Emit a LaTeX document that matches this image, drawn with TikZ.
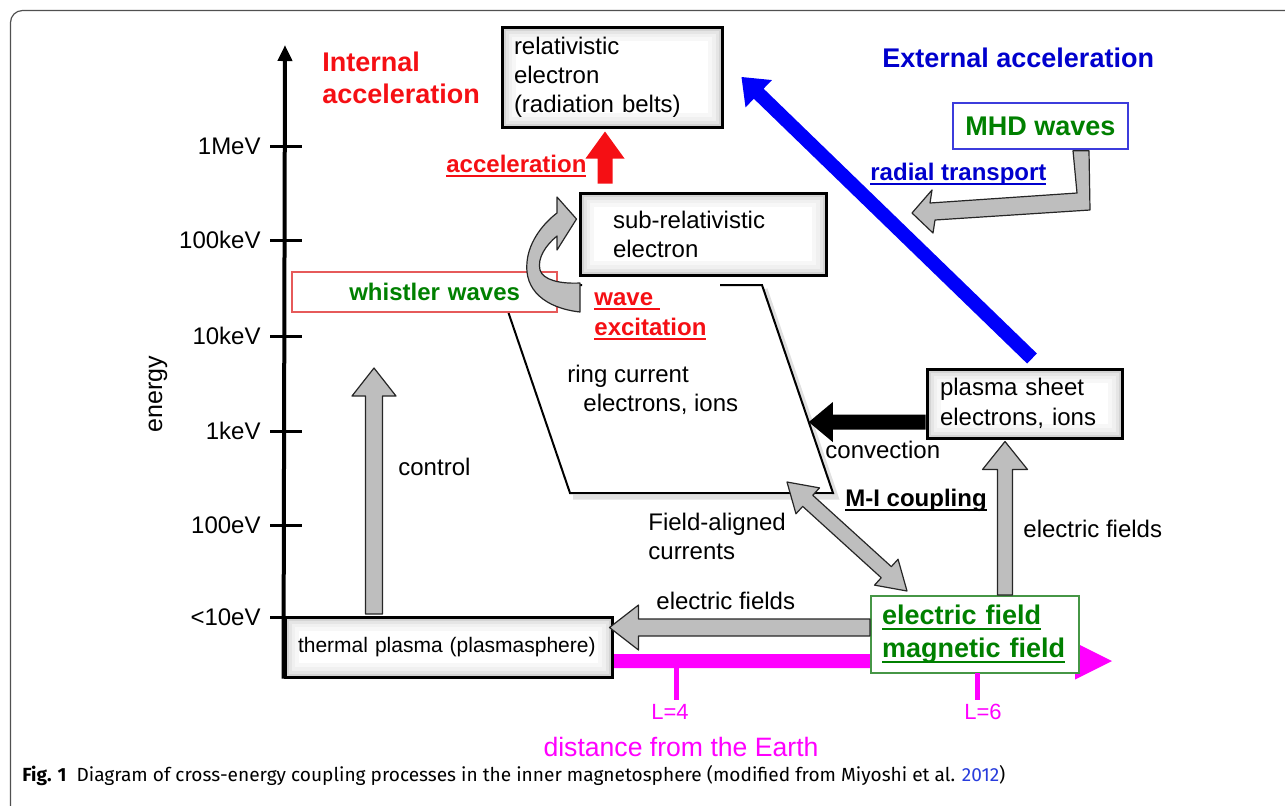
\documentclass[tikz,border=0pt]{standalone}
\usepackage{fontspec}
\setmainfont{Liberation Sans}
\newfontfamily\capfont{Fira Sans}
\newsavebox\ulbox
\newcommand\myul[1]{\leavevmode\sbox\ulbox{#1}\rlap{\rule[-2.3pt]{\wd\ulbox}{0.9pt}}\usebox\ulbox}
\usetikzlibrary{calc,arrows.meta}
\pgfdeclarelayer{bg}
\pgfsetlayers{bg,main}
\definecolor{myred}{RGB}{245,15,20}
\definecolor{mygreen}{RGB}{0,128,0}
\definecolor{myblue}{RGB}{0,0,205}
\definecolor{arrblue}{RGB}{0,0,250}
\definecolor{mymag}{RGB}{255,0,255}
\definecolor{mygray}{RGB}{190,190,190}
\definecolor{capblue}{RGB}{40,60,220}
\definecolor{whred}{RGB}{230,90,90}
\definecolor{mhdblue}{RGB}{60,60,220}
\definecolor{emgreen}{RGB}{70,150,70}
\definecolor{framegray}{RGB}{80,80,80}
% single-headed block arrow: #1 start, #2 tip, #3 half shaft, #4 half head, #5 head length, #6 style
\newcommand\blkarrow[6]{%
  \coordinate (bkC) at ($(#2)!#5!(#1)$);
  \path[#6] ($(#1)!#3!90:(#2)$) -- ($(bkC)!#3!90:(#2)$) -- ($(bkC)!#4!90:(#2)$) -- (#2)
    -- ($(bkC)!#4!-90:(#2)$) -- ($(bkC)!#3!-90:(#2)$) -- ($(#1)!#3!-90:(#2)$) -- cycle;}
% double-headed block arrow
\newcommand\blkdarrow[6]{%
  \coordinate (bkC) at ($(#2)!#5!(#1)$);
  \coordinate (bkD) at ($(#1)!#5!(#2)$);
  \path[#6] (#1) -- ($(bkD)!#4!90:(#2)$) -- ($(bkD)!#3!90:(#2)$) -- ($(bkC)!#3!90:(#2)$)
    -- ($(bkC)!#4!90:(#2)$) -- (#2) -- ($(bkC)!#4!-90:(#2)$) -- ($(bkC)!#3!-90:(#2)$)
    -- ($(bkD)!#3!-90:(#2)$) -- ($(bkD)!#4!-90:(#2)$) -- cycle;}
\tikzset{
  box/.style={draw=black, line width=1.5pt, fill=white, align=left, inner ysep=0pt,
    font=\fontsize{12}{14.5}\selectfont,
    path picture={
      \draw[black!3, line width=14pt] (path picture bounding box.south west) rectangle (path picture bounding box.north east);
      \draw[black!6, line width=10pt] (path picture bounding box.south west) rectangle (path picture bounding box.north east);
      \draw[black!10, line width=6.5pt] (path picture bounding box.south west) rectangle (path picture bounding box.north east);
      \draw[black!17, line width=3.5pt] (path picture bounding box.south west) rectangle (path picture bounding box.north east);
    }},
  lbl/.style={inner sep=0pt, anchor=west, font=\fontsize{12}{14.5}\selectfont},
  ticklbl/.style={inner sep=0pt, anchor=east, font=\fontsize{12}{14}\selectfont},
  grayarr/.style={fill=mygray, draw=black!85, line width=0.6pt, line join=round},
  solidarr/.style={fill=#1, draw=none},
}
\begin{document}
\begin{tikzpicture}[x=0.5pt,y=-0.5pt]
\useasboundingbox (0,0) rectangle (1285,805);
% outer frame
\draw[framegray, line width=0.6pt, rounded corners=6pt] (10.5,10.5) rectangle (1300,830);

% ring current parallelogram
\coordinate (rcTL) at (499,285);
\coordinate (rcTR) at (762,285);
\coordinate (rcBR) at (833,493);
\coordinate (rcBL) at (570,493);
\draw[black!12, line width=2.5pt] ($(rcTR)+(3,4)$) -- ($(rcBR)+(3,4)$) -- ($(rcBL)+(3,4)$);
\draw[black, line width=1pt, line join=miter] (720,285) -- (rcTR) -- (rcBR) -- (rcBL) -- (rcTL) -- (582,285);

% boxes
\node[box, text width=98pt, inner xsep=6pt, minimum height=50pt] (rel) at (612,77)
  {relativistic\\electron\\(radiation belts)};
\node[box, text width=90pt, inner xsep=16.5pt, minimum height=41pt] (sub) at (703,234)
  {sub-relativistic\\electron};
\node[box, text width=84.5pt, inner xsep=6.5pt, minimum height=34.5pt, font=\fontsize{12}{15}\selectfont] (ps) at (1024.5,403.5)
  {plasma sheet\\electrons, ions};
\node[box, text width=150.5pt, inner xsep=6.5pt, minimum height=30pt, font=\fontsize{10.5}{12}\selectfont] (thermal) at (448.5,647)
  {thermal plasma (plasmasphere)};
\node[draw=whred, line width=0.6pt, fill=white, minimum height=20pt, text width=95.5pt, inner xsep=18.5pt,
  inner ysep=0pt, align=right, font=\bfseries\fontsize{12}{14}\selectfont, text=mygreen] (whistler) at (424.5,292) {whistler waves};
\node[draw=mhdblue, line width=0.8pt, fill=white, minimum width=87.5pt, minimum height=23pt, inner sep=0pt,
  font=\bfseries\fontsize{13.5}{16}\selectfont, text=mygreen] (mhd) at (1040.5,126) {MHD waves};
\node[draw=emgreen, line width=1pt, fill=white, text width=93pt, inner xsep=5.5pt, inner ysep=0pt, minimum height=38.5pt,
  align=left, font=\bfseries\fontsize{13.5}{16.5}\selectfont, text=mygreen] (em) at (975,634.5)
  {\myul{electric field}\\\myul{magnetic field}};

% energy axis
\coordinate (axtop) at (285,45);
\draw[line width=2pt, -{Triangle[width=7pt,length=8pt]}] (thermal.south west) -- (axtop);
\foreach \yy/\lab in {146/1MeV, 240/100keV, 336/10keV, 431/1keV, 525/100eV, 617/{<10eV}} {
  \draw[line width=1.5pt] (270,\yy) -- (302,\yy);
  \node[ticklbl] (t\yy) at (261,\yy) {\lab};
}
\node[inner sep=0pt, rotate=90, font=\fontsize{12.5}{14}\selectfont] (energy) at (158,394) {energy};

% distance axis (behind)
\begin{pgfonlayer}{bg}
  \coordinate (distA) at ([yshift=-7pt]thermal.east);
  \coordinate (distB) at (1112,661);
  \blkarrow{distA}{distB}{3.5pt}{9.25pt}{18.5pt}{solidarr=mymag}
\end{pgfonlayer}
\draw[mymag, line width=2.5pt] (676,668) -- (676,700);
\draw[mymag, line width=2.5pt] (977,673) -- (977,700);
\node[inner sep=0pt, text=mymag, font=\fontsize{11}{13}\selectfont] (l4) at (670,712) {L=4};
\node[inner sep=0pt, text=mymag, font=\fontsize{11}{13}\selectfont] (l6) at (983,712) {L=6};
\node[inner sep=0pt, text=mymag, font=\fontsize{13.3}{16}\selectfont] (dist) at (681,747) {distance from the Earth};

% red acceleration arrow
\coordinate (accA) at ([xshift=-49pt,yshift=4pt]sub.north);
\coordinate (accB) at ([xshift=-3.5pt,yshift=-1.5pt]rel.south);
\blkarrow{accA}{accB}{3.75pt}{9.75pt}{13.5pt}{solidarr=myred}

% blue radial transport arrow
\coordinate (blA) at ([xshift=3.75pt,yshift=4.5pt]ps.north);
\coordinate (blB) at ([xshift=9pt]rel.east);
\blkarrow{blA}{blB}{3.5pt}{9.5pt}{12pt}{solidarr=arrblue}

% MHD bent arrow
\coordinate (radtip) at (912,213);
\draw[grayarr] ([xshift=16.25pt,yshift=-0.5pt]mhd.south) -- (1077,193) -- (930,203) -- (932,190) -- (radtip)
  -- (933,233) -- (935,220) -- (1090,210) -- ([xshift=24.25pt,yshift=-0.5pt]mhd.south) -- cycle;

% convection arrow
\coordinate (convA) at ([yshift=-9.25pt]ps.west);
\coordinate (convB) at ($(rcTR)!0.659!(rcBR)$);
\blkarrow{convA}{convB}{3.75pt}{10pt}{12pt}{solidarr=black}

% electric fields up
\coordinate (efA) at ([xshift=15pt]em.north);
\coordinate (efB) at ([xshift=-9.75pt,yshift=-1pt]ps.south);
\blkarrow{efA}{efB}{3.75pt}{11.25pt}{14pt}{grayarr}

% electric fields left
\coordinate (elA) at ([yshift=3.5pt]em.west);
\coordinate (elB) at ([xshift=-2pt,yshift=9.75pt]thermal.east);
\blkarrow{elA}{elB}{4.25pt}{11.25pt}{14.5pt}{grayarr}

% control
\coordinate (ctA) at ([xshift=-37.25pt,yshift=0.75pt]thermal.north);
\coordinate (ctB) at (374,368);
\blkarrow{ctA}{ctB}{4.25pt}{11pt}{14pt}{grayarr}

% field-aligned currents
\coordinate (faA) at (787,482);
\coordinate (faB) at ([xshift=18.5pt,yshift=2pt]em.north west);
\blkdarrow{faA}{faB}{3.75pt}{8.75pt}{14pt}{grayarr}

% wave excitation curved arrow
\coordinate (wvtip) at ([xshift=-1pt,yshift=7.5pt]sub.west);
\draw[grayarr] (580,312) .. controls (545,308) and (524,290) .. (527,262)
  .. controls (529,240) and (545,222) .. (557,213) -- (557,197) -- (wvtip) -- (557,250) -- (557,236)
  .. controls (546,245) and (537,258) .. (540,270) .. controls (543,280) and (560,284) .. (580,283) -- cycle;

% labels
\node[lbl, font=\bfseries\fontsize{13.5}{16}\selectfont, text=myred, align=left] (intacc) at (322,78) {Internal\\acceleration};
\node[lbl, font=\bfseries\fontsize{13.5}{16}\selectfont, text=myblue] (extacc) at (882,58) {External acceleration};
\node[lbl, font=\bfseries\fontsize{12}{14}\selectfont, text=myblue] (radial) at (870,174) {\myul{radial transport}};
\node[lbl, font=\bfseries\fontsize{12}{14}\selectfont, text=myred] (acclbl) at (446,166) {\myul{acceleration}};
\node[lbl, font=\bfseries\fontsize{12}{15}\selectfont, text=myred, align=left] (wavex) at (594,316) {\myul{wave\ }\\\myul{excitation}};
\node[lbl, align=left] (ring) at (567,390) {ring current\\\hspace*{8pt}electrons, ions};
\node[lbl] (conv) at (825,450) {convection};
\node[lbl, font=\bfseries\fontsize{12}{14}\selectfont] (mi) at (845,500) {\myul{M-I coupling}};
\node[lbl, align=left] (fac) at (648,536) {Field-aligned\\currents};
\node[lbl] (ef1) at (1023,529) {electric fields};
\node[lbl] (ef2) at (656,601) {electric fields};
\node[lbl] (ctl) at (398,467) {control};

% caption
\node[anchor=base west, inner sep=0pt] (cap) at (22,781) {\resizebox{491.5pt}{\height}{\capfont\fontsize{9.5}{11}\selectfont\textbf{Fig. 1}\hspace{5pt}Diagram of cross-energy coupling processes in the inner magnetosphere (modified from Miyoshi et al. \textcolor{capblue}{2012})}};
\end{tikzpicture}
\end{document}
